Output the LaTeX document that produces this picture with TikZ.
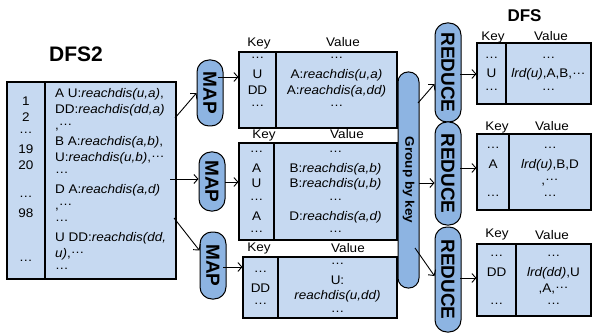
\documentclass[tikz,border=0pt]{standalone}
\usepackage{graphicx}
\usepackage{fontspec}
\setmainfont{Liberation Sans}[FakeStretch=1.08]
\newfontfamily\headfont{Liberation Sans}
\usetikzlibrary{arrows.meta}
\definecolor{cellblue}{RGB}{198,217,241}
\definecolor{pillblue}{RGB}{141,180,226}
\newcommand\ld{\raisebox{0.3em}{…}}
\newcommand\bodyfont{\fontsize{12.5}{16}\selectfont}
% struts for the first and last line of a cell, so cell text centres on its rows
\newcommand\tst{\rule{0pt}{10pt}}
\newcommand\bst{\rule[-1pt]{0pt}{1pt}}
\begin{document}
\begin{tikzpicture}[x=1pt,y=-1pt,
  cellbox/.style={draw, line width=1.1pt, fill=cellblue, inner sep=0pt, align=center, font=\bodyfont},
  hdr/.style={anchor=base, inner sep=0pt, font=\bodyfont},
  pill/.style={draw, line width=1pt, fill=pillblue, rounded corners=12pt, inner sep=0pt,
    minimum width=26pt, font=\headfont\bfseries\fontsize{19}{19}\selectfont},
  arr/.style={-{Straight Barb[length=4pt,width=9pt]}, line width=0.9pt},
  title/.style={anchor=base, inner sep=0pt}
]
\useasboundingbox (0,0) rectangle (592,334);

% titles
\node[title, font=\headfont\bfseries\fontsize{21}{21}\selectfont] (t2) at (76,62) {DFS2};
\node[title, font=\headfont\bfseries\fontsize{17}{17}\selectfont] (t1) at (524.5,22) {DFS};

% input table
\node[cellbox, minimum width=38pt, minimum height=197pt] (lk) at (26,180.5)
  {\tst 1\\2\\\ld\\19\\20\\\mbox{}\\\ld\\98\\\mbox{}\\\mbox{}\\\bst\ld};
\node[cellbox, minimum width=131pt, minimum height=197pt] (lv) at (110.5,180.5) {};
\node[anchor=west, inner sep=0pt, align=left, font=\bodyfont] (lvt) at (55,181)
  {\tst A U:\textit{reachdis(u,a)},\\
   DD:\textit{reachdis(dd,a)}\\
   ,\ld\\
   B A:\textit{reachdis(a,b)},\\
   U:\textit{reachdis(u,b)},\ld\\
   \ld\\
   D A:\textit{reachdis(a,d)}\\
   ,\ld\\
   \ld\\
   U DD:\textit{reachdis(dd,}\\
   \textit{u)},\ld\\
   \bst\ld};

% map stage
\node[pill, minimum height=66pt] (map1) at (210,93) {\rotatebox{-90}{MAP}};
\node[pill, minimum height=59pt] (map2) at (212,181.5) {\rotatebox{-90}{MAP}};
\node[pill, minimum height=67pt] (map3) at (213,265.5) {\rotatebox{-90}{MAP}};

% intermediate key/value tables
\node[hdr] (m1kh) at (259,47) {Key};
\node[hdr] (m1vh) at (343,47) {Value};
\node[cellbox, minimum width=37pt, minimum height=76pt] (m1k) at (257.5,90)
  {\tst\ld\\U\\DD\\\ld\\\bst};
\node[cellbox, minimum width=121pt, minimum height=76pt] (m1v) at (336.5,90)
  {\tst\ld\\A:\textit{reachdis(u,a)}\\A:\textit{reachdis(a,dd)}\\\ld\\\bst};

\node[hdr] (m2kh) at (264,139) {Key};
\node[hdr] (m2vh) at (347,139) {Value};
\node[cellbox, minimum width=35pt, minimum height=97pt] (m2k) at (256.5,191.5)
  {\tst\ld\\A\\U\\\ld\\A\\\bst\ld};
\node[cellbox, minimum width=123pt, minimum height=97pt] (m2v) at (335.5,191.5)
  {\tst\ld\\B:\textit{reachdis(a,b)}\\B:\textit{reachdis(u,b)}\\\ld\\D:\textit{reachdis(a,d)}\\\bst\ld};

\node[hdr] (m3kh) at (259,251.5) {Key};
\node[hdr] (m3vh) at (348,252) {Value};
\node[cellbox, minimum width=35pt, minimum height=61pt] (m3k) at (260.5,287.5)
  {\tst\ld\\DD\\\bst\ld};
\node[cellbox, minimum width=119pt, minimum height=61pt] (m3v) at (337.5,287.5)
  {\tst\ld\\U:\\\textit{reachdis(u,dd)}\\\bst\ld};

% shuffle
\node[pill, minimum width=21pt, minimum height=216pt, rounded corners=10pt,
  font=\normalfont\bfseries\fontsize{12.5}{13}\selectfont] (grp) at (408.5,180)
  {\rotatebox{-90}{Group by key}};

% reduce stage
\node[pill, minimum height=99pt] (red1) at (448,72.5) {\rotatebox{-90}{REDUCE}};
\node[pill, minimum height=103pt] (red2) at (448,173.5) {\rotatebox{-90}{REDUCE}};
\node[pill, minimum height=105pt] (red3) at (448,279.5) {\rotatebox{-90}{REDUCE}};

% output tables
\node[hdr] (d1kh) at (493,40.5) {Key};
\node[hdr] (d1vh) at (551,40.5) {Value};
\node[cellbox, minimum width=29pt, minimum height=61pt] (d1k) at (491.5,73.5)
  {\tst\ld\\U\\\bst\ld};
\node[cellbox, minimum width=85pt, minimum height=61pt] (d1v) at (548.5,73.5)
  {\tst\ld\\\textit{lrd(u)},A,B,\ld\\\bst\ld};

\node[hdr] (d2kh) at (497,131) {Key};
\node[hdr] (d2vh) at (552,131) {Value};
\node[cellbox, minimum width=32pt, minimum height=76pt] (d2k) at (493,172)
  {\tst\ld\\A\\\mbox{}\\\bst\ld};
\node[cellbox, minimum width=82pt, minimum height=76pt] (d2v) at (550,172)
  {\tst\ld\\\textit{lrd(u)},B,D\\,\ld\\\bst\ld};

\node[hdr] (d3kh) at (497,237.5) {Key};
\node[hdr] (d3vh) at (552,240) {Value};
\node[cellbox, minimum width=39pt, minimum height=72pt] (d3k) at (496.5,280)
  {\tst\ld\\DD\\\mbox{}\\\bst\ld};
\node[cellbox, minimum width=75pt, minimum height=72pt] (d3v) at (553.5,280)
  {\tst\ld\\\textit{lrd(dd)},U\\,A,\ld\\\bst\ld};

% connector end points
\coordinate (o1) at (175,118);
\coordinate (o2) at (170,179);
\coordinate (o3) at (174,218);
\coordinate (p1) at (218,77);
\coordinate (p2) at (225,182);
\coordinate (p3) at (223,267);
\coordinate (g1) at (418,103);
\coordinate (g1y) at (0,84);
\coordinate (g2) at (419,183);
\coordinate (g3) at (415,248);
\coordinate (g3y) at (0,276);
\coordinate (r1) at (460,74);
\coordinate (r2) at (460,168);
\coordinate (r3) at (460,278);

% connectors
\draw[arr] (o1) -- (map1.west);
\draw[arr] (o2) -- (o2 -| map2.west);
\draw[arr] (o3) -- ([yshift=15pt]map3.west);
\draw[arr] (p1) -- (p1 -| m1k.west);
\draw[arr] (p2) -- (p2 -| m2k.west);
\draw[arr] (p3) -- (p3 -| m3k.west);
\draw[arr] (g1) -- (red1.west |- g1y);
\draw[arr] (g2) -- (g2 -| red2.west);
\draw[arr] (g3) -- (red3.west |- g3y);
\draw[arr] (r1) -- (r1 -| d1k.west);
\draw[arr] (r2) -- (r2 -| d2k.west);
\draw[arr] (r3) -- (r3 -| d3k.west);
\end{tikzpicture}
\end{document}
